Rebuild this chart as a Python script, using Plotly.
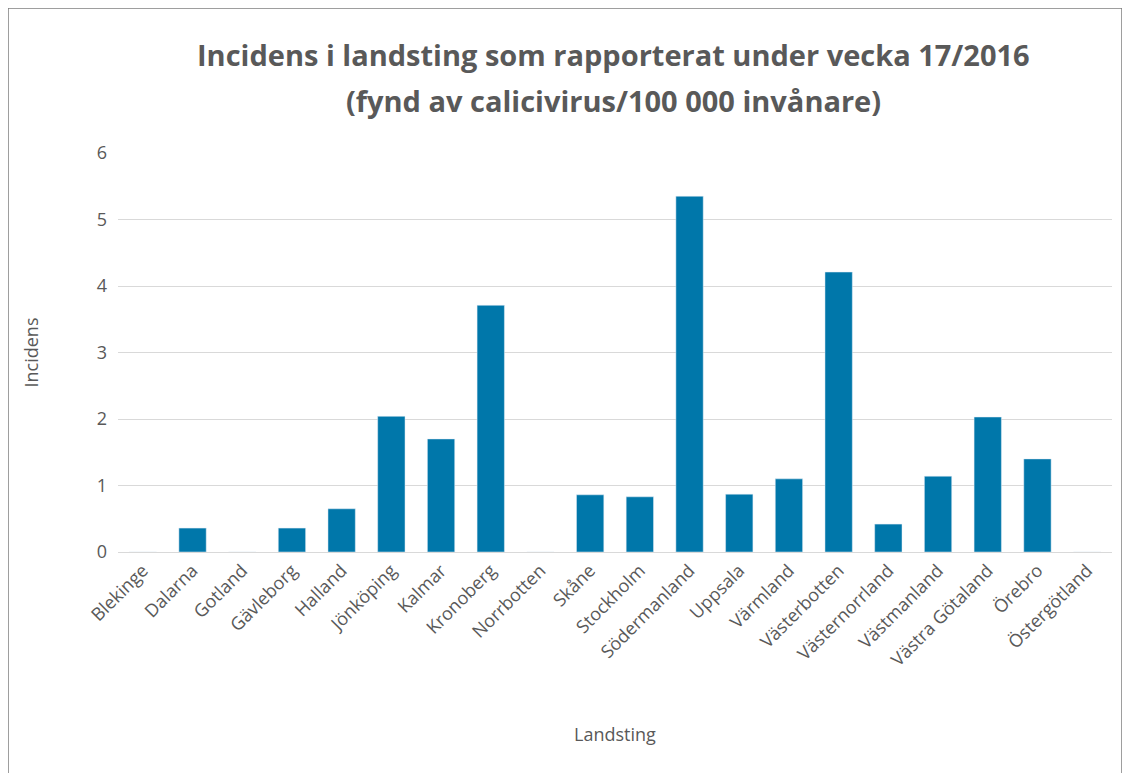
import plotly.graph_objects as go

categories = ["Blekinge","Dalarna","Gotland","Gävleborg","Halland","Jönköping","Kalmar","Kronoberg",
              "Norrbotten","Skåne","Stockholm","Södermanland","Uppsala","Värmland","Västerbotten",
              "Västernorrland","Västmanland","Västra Götaland","Örebro","Östergötland"]
values = [0, 0.36, 0, 0.36, 0.65, 2.04, 1.70, 3.71, 0, 0.86, 0.83, 5.35, 0.87, 1.10, 4.21,
          0.42, 1.14, 2.03, 1.40, 0]
title_lines = ["Incidens i landsting som rapporterat under vecka 17/2016",
               "(fynd av calicivirus/100 000 invånare)"]

fig = go.Figure(go.Bar(x=categories, y=values, marker_color="#0077AA", width=0.55))

OFF = 8
L, R, T, B = 110, 26, 145, 229
W, H = 1130, 773
pw, ph = W - L - R, H - T - B
def px(x): return (x - OFF - L) / pw
def py(y): return (H - B - (y - OFF)) / ph

tfont = dict(size=29, color="#595959", family="Open Sans", weight="bold")
annotations = [dict(text=t, xref="paper", yref="paper", x=px(613), y=py(yy), xanchor="center",
                    yanchor="middle", showarrow=False, font=tfont)
               for t, yy in zip(title_lines, [55, 100])]

fig.update_layout(
    width=W, height=H, margin=dict(l=L, r=R, t=T, b=B, autoexpand=False),
    plot_bgcolor="white", paper_bgcolor="white",
    font=dict(family="Open Sans", color="#595959", size=18),
    annotations=annotations,
    xaxis=dict(tickangle=-45, showgrid=False, showline=True, linecolor="#d9d9d9", ticks="",
               automargin=False,
               title=dict(text="Landsting", font=dict(size=18), standoff=58)),
    yaxis=dict(range=[0, 6], dtick=1, gridcolor="#d9d9d9", zeroline=False, ticks="", showline=False,
               automargin=False, ticklabelstandoff=10,
               title=dict(text="Incidens", font=dict(size=18), standoff=53)),
    shapes=[dict(type="rect", xref="paper", yref="paper", x0=px(8), x1=px(1122), y0=py(790), y1=py(8),
                 line=dict(color="#7f7f7f", width=1.5), layer="below")],
    showlegend=False,
)
fig.write_html("out.html")
